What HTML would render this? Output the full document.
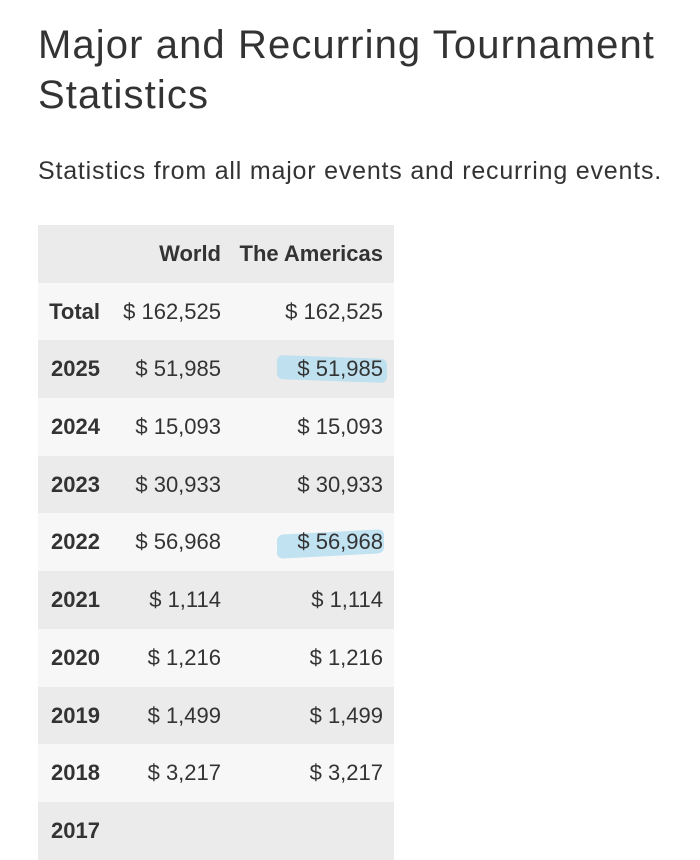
<!DOCTYPE html>
<html><head><meta charset="utf-8"><style>
body{margin:0;width:700px;height:822px;background:#fff;overflow:hidden;font-family:"Liberation Sans",sans-serif;color:#333;position:relative}
h1{position:absolute;left:38px;top:20px;margin:0;font-weight:normal;font-size:40px;line-height:50px;color:#333;letter-spacing:1.1px}
p{position:absolute;left:38px;top:157px;margin:0;font-size:25px;color:#333;letter-spacing:0.8px}
.t{position:absolute;left:38px;top:225px;width:356px}
.r{height:57.7px;position:relative;font-size:22px}
.r span{position:absolute;top:16px;z-index:2}
.a{right:294px;font-weight:bold}
.b{right:173px}
.c{right:11px}
.g{background:#ebebeb}.w{background:#f7f7f7}
.hl{position:absolute;height:24px;background:#b9dff0;opacity:.9;border-radius:6px;z-index:1}
</style></head><body>
<h1>Major and Recurring Tournament<br>Statistics</h1>
<p>Statistics from all major events and recurring events.</p>
<div class="t">
<div class="hl" style="left:239px;top:132px;width:110px;transform:skewY(2deg)"></div>
<div class="hl" style="left:239px;top:307px;width:107px;transform:skewY(-3deg)"></div>
<div class="r g" style="font-weight:bold"><span class="b">World</span><span class="c">The Americas</span></div>
<div class="r w"><span class="a">Total</span><span class="b">$ 162,525</span><span class="c">$ 162,525</span></div>
<div class="r g"><span class="a">2025</span><span class="b">$ 51,985</span><span class="c">$ 51,985</span></div>
<div class="r w"><span class="a">2024</span><span class="b">$ 15,093</span><span class="c">$ 15,093</span></div>
<div class="r g"><span class="a">2023</span><span class="b">$ 30,933</span><span class="c">$ 30,933</span></div>
<div class="r w"><span class="a">2022</span><span class="b">$ 56,968</span><span class="c">$ 56,968</span></div>
<div class="r g"><span class="a">2021</span><span class="b">$ 1,114</span><span class="c">$ 1,114</span></div>
<div class="r w"><span class="a">2020</span><span class="b">$ 1,216</span><span class="c">$ 1,216</span></div>
<div class="r g"><span class="a">2019</span><span class="b">$ 1,499</span><span class="c">$ 1,499</span></div>
<div class="r w"><span class="a">2018</span><span class="b">$ 3,217</span><span class="c">$ 3,217</span></div>
<div class="r g"><span class="a">2017</span></div>
</div>
</body></html>
